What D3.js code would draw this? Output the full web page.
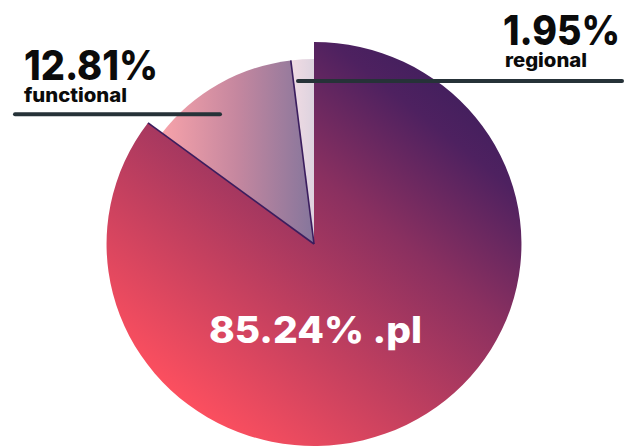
<!DOCTYPE html>
<html><head><meta charset="utf-8">
<script src="https://cdn.jsdelivr.net/npm/d3@7"></script>
<style>html,body{margin:0;padding:0;background:#fff;}svg{display:block;}</style>
</head><body>
<svg id="chart" width="626" height="448"></svg>
<script>
const categories = [".pl", "functional", "regional"];
const shares = [85.24, 12.81, 1.95];
const valueLabels = ["85.24%", "12.81%", "1.95%"];

const svg = d3.select("#chart");
const defs = svg.append("defs");
const FONT = "Inter, 'Open Sans', sans-serif";

function grad(id, x1, y1, x2, y2, stops) {
  const g = defs.append("linearGradient").attr("id", id)
    .attr("gradientUnits", "userSpaceOnUse")
    .attr("x1", x1).attr("y1", y1).attr("x2", x2).attr("y2", y2);
  stops.forEach(s => g.append("stop").attr("offset", s[0]).attr("stop-color", s[1]));
}
// gradients in pie-local coordinates (center at 0,0)
grad("g0", -114, 176, 166, -164, [[0, "#ff505f"], [0.3, "#c4405f"], [0.6, "#8a3060"], [0.85, "#4e2160"], [1, "#3c1e5c"]]);
grad("g1", -150, 0, 0, 0, [[0, "#f8a3aa"], [0.5, "#c5879f"], [1, "#85769c"]]);
grad("g2", -35, 0, 0, 0, [[0, "#fde0e6"], [1, "#ddd3df"]]);

const cx = 314, cy = 244;
const g = svg.append("g").attr("transform", `translate(${cx},${cy}) scale(1.027,1)`);

const pie = d3.pie().sort(null).value(d => d.v);
const data = pie(categories.map((c, i) => ({ c, v: shares[i] })));
const radius = d3.scaleOrdinal().domain(categories).range([202, 185, 185]);
const arc = d3.arc().innerRadius(0).outerRadius(d => radius(d.data.c));

g.selectAll("path.slice").data(data).join("path")
  .attr("class", "slice")
  .attr("d", arc)
  .attr("fill", (d, i) => `url(#g${i})`);

// dark radial edges at slice boundaries
const edges = [
  { a: data[0].endAngle, r: radius(categories[0]) },
  { a: data[1].endAngle, r: radius(categories[1]) }
];
g.selectAll("line.edge").data(edges).join("line")
  .attr("class", "edge")
  .attr("x1", 0).attr("y1", 0)
  .attr("x2", d => d3.pointRadial(d.a, d.r)[0])
  .attr("y2", d => d3.pointRadial(d.a, d.r)[1])
  .attr("stroke", "#3b1d5e").attr("stroke-width", 1.6);

// center label
svg.append("text").attr("x", 315.5).attr("y", 343)
  .attr("text-anchor", "middle").attr("fill", "#fff")
  .attr("font-family", FONT).attr("font-weight", 800).attr("font-size", 37)
  .attr("textLength", 213).attr("lengthAdjust", "spacingAndGlyphs")
  .text(valueLabels[0] + " " + categories[0]);

// functional label
svg.append("text").attr("x", 24).attr("y", 80)
  .attr("fill", "#0b0b0b").attr("font-family", FONT).attr("font-weight", 800).attr("font-size", 41)
  .attr("textLength", 134).attr("lengthAdjust", "spacingAndGlyphs")
  .text(valueLabels[1]);
svg.append("text").attr("x", 24).attr("y", 101.5)
  .attr("fill", "#0b0b0b").attr("font-family", FONT).attr("font-weight", 800).attr("font-size", 19)
  .attr("textLength", 103).attr("lengthAdjust", "spacingAndGlyphs")
  .text(categories[1]);
svg.append("line").attr("x1", 15).attr("x2", 220).attr("y1", 114.3).attr("y2", 114.3)
  .attr("stroke", "#263238").attr("stroke-width", 4).attr("stroke-linecap", "round");

// regional label
svg.append("text").attr("x", 503).attr("y", 45)
  .attr("fill", "#0b0b0b").attr("font-family", FONT).attr("font-weight", 800).attr("font-size", 41)
  .attr("textLength", 117).attr("lengthAdjust", "spacingAndGlyphs")
  .text(valueLabels[2]);
svg.append("text").attr("x", 505).attr("y", 66.5)
  .attr("fill", "#0b0b0b").attr("font-family", FONT).attr("font-weight", 800).attr("font-size", 19)
  .attr("textLength", 82).attr("lengthAdjust", "spacingAndGlyphs")
  .text(categories[2]);
svg.append("line").attr("x1", 298).attr("x2", 622).attr("y1", 81).attr("y2", 81)
  .attr("stroke", "#263238").attr("stroke-width", 4).attr("stroke-linecap", "round");
</script>
</body></html>
